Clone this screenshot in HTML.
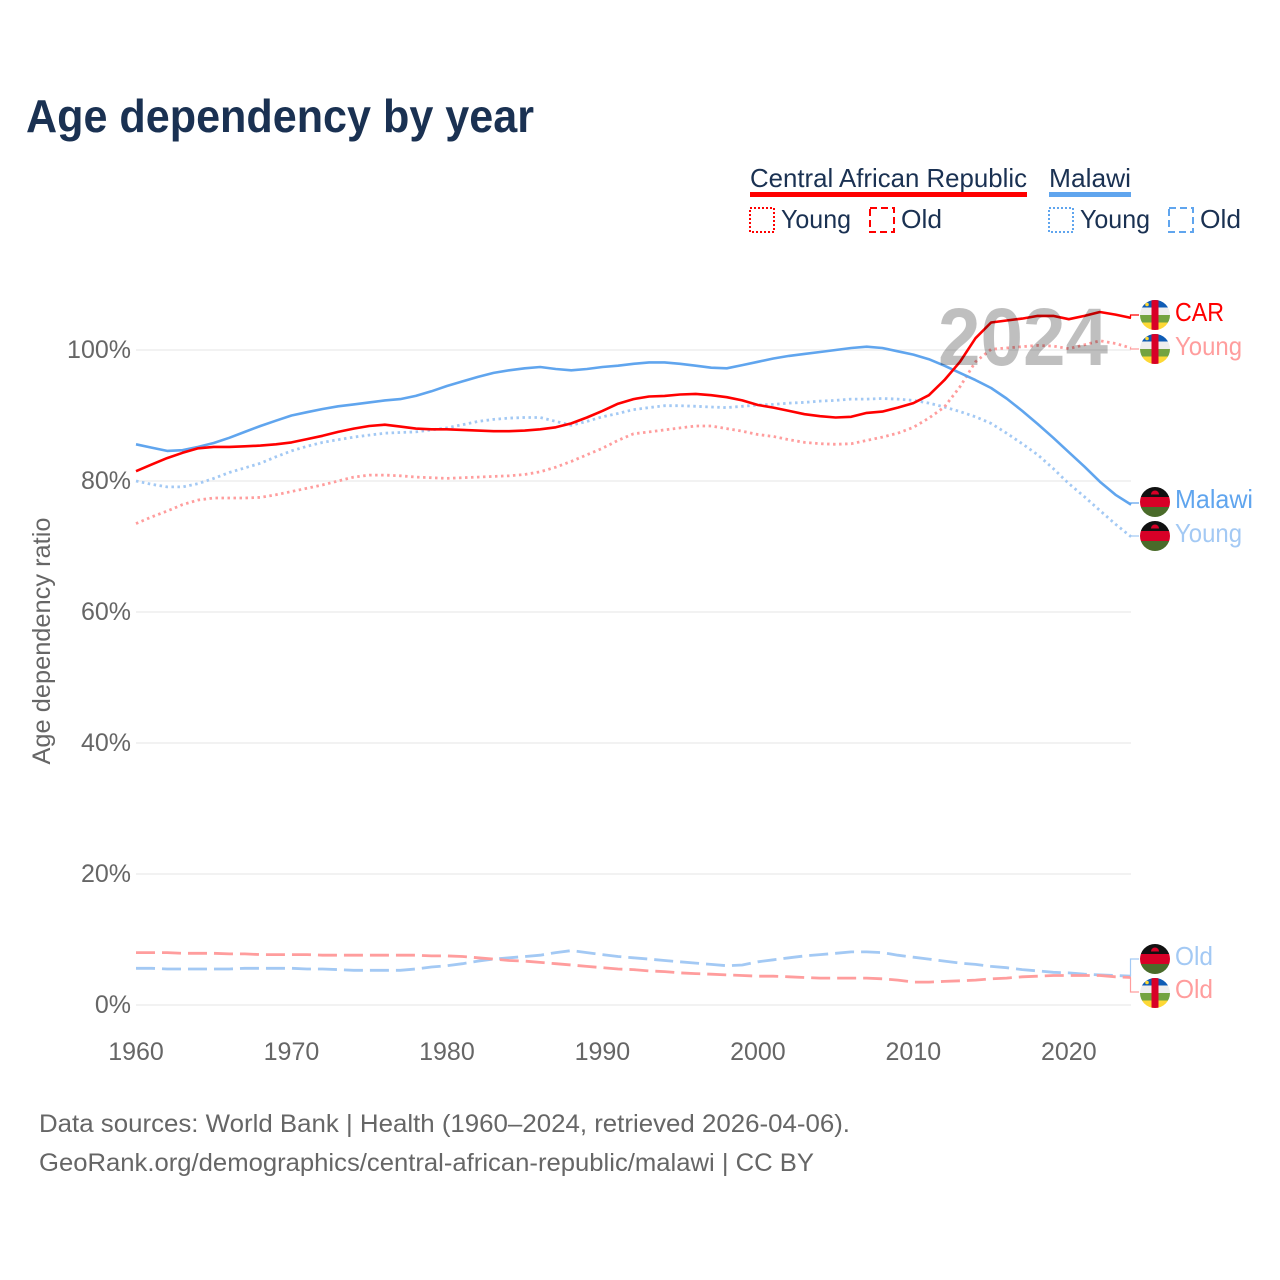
<!DOCTYPE html>
<html lang="en">
<head>
<meta charset="utf-8">
<title>Age dependency by year</title>
<style>
html,body{margin:0;padding:0;background:#fff;}
svg{display:block;font-family:"Liberation Sans",sans-serif;}
.legend{font-size:26px;fill:#1a3152;}
.tick{font-size:25px;fill:#666;}
.foot{font-size:25px;fill:#666;}
.end{font-size:26px;}
</style>
</head>
<body>
<svg id="chart" width="1280" height="1280" viewBox="0 0 1280 1280" xmlns="http://www.w3.org/2000/svg">
<rect width="1280" height="1280" fill="#fff"/>
<text x="26" y="132" font-size="46" font-weight="700" fill="#1a3152" textLength="508" lengthAdjust="spacingAndGlyphs">Age dependency by year</text>

<g>
<text class="legend" x="750" y="187" textLength="277" lengthAdjust="spacingAndGlyphs">Central African Republic</text>
<rect x="750" y="192" width="277" height="5" fill="#ff0000"/>
<text class="legend" x="1049" y="187" textLength="82" lengthAdjust="spacingAndGlyphs">Malawi</text>
<rect x="1049" y="192" width="82" height="5" fill="#60a5ee"/>
<rect x="750" y="208" width="24" height="24" fill="none" stroke="#ff0000" stroke-width="2" stroke-dasharray="2 2"/>
<text class="legend" x="781" y="228" textLength="70" lengthAdjust="spacingAndGlyphs">Young</text>
<rect x="870" y="208" width="24" height="24" fill="none" stroke="#ff0000" stroke-width="2" stroke-dasharray="7 4"/>
<text class="legend" x="901" y="228" textLength="41" lengthAdjust="spacingAndGlyphs">Old</text>
<rect x="1049" y="208" width="24" height="24" fill="none" stroke="#60a5ee" stroke-width="2" stroke-dasharray="2 2"/>
<text class="legend" x="1080" y="228" textLength="70" lengthAdjust="spacingAndGlyphs">Young</text>
<rect x="1169" y="208" width="24" height="24" fill="none" stroke="#60a5ee" stroke-width="2" stroke-dasharray="7 4"/>
<text class="legend" x="1200" y="228" textLength="41" lengthAdjust="spacingAndGlyphs">Old</text>
</g>

<g id="grid"></g>
<g id="yticks"></g>
<g id="xticks"></g>
<text transform="translate(50,641) rotate(-90)" text-anchor="middle" font-size="25" fill="#666" textLength="247" lengthAdjust="spacingAndGlyphs">Age dependency ratio</text>
<g id="series"></g>
<g id="connectors"></g>
<text x="938" y="365" font-size="82" font-weight="700" fill="#000" fill-opacity="0.25" textLength="170" lengthAdjust="spacingAndGlyphs">2024</text>

<g transform="translate(1155,315)"><use href="#flag-car"/></g>
<g transform="translate(1155,349)"><use href="#flag-car"/></g>
<g transform="translate(1155,502)"><use href="#flag-mw"/></g>
<g transform="translate(1155,536)"><use href="#flag-mw"/></g>
<g transform="translate(1155,959)"><use href="#flag-mw"/></g>
<g transform="translate(1155,993)"><use href="#flag-car"/></g>

<defs>
<clipPath id="flag-clip"><circle r="15"/></clipPath>
<g id="flag-car" clip-path="url(#flag-clip)">
<rect x="-15" y="-15" width="30" height="7.6" fill="#0f5cb5"/>
<rect x="-15" y="-7.5" width="30" height="7.6" fill="#eeeeee"/>
<rect x="-15" y="0" width="30" height="7.6" fill="#73a340"/>
<rect x="-15" y="7.5" width="30" height="7.5" fill="#fdd835"/>
<rect x="-3.5" y="-15" width="7" height="30" fill="#d80027"/>
<circle cx="-8" cy="-10.5" r="1.8" fill="#fdd835"/>
</g>
<g id="flag-mw" clip-path="url(#flag-clip)">
<rect x="-15" y="-15" width="30" height="10.2" fill="#111111"/>
<rect x="-15" y="-5" width="30" height="10.2" fill="#d80027"/>
<rect x="-15" y="5" width="30" height="10" fill="#4a6b2a"/>
<path d="M-4-7.5 A4 4 0 0 1 4-7.5 Z" fill="#d80027"/>
</g>
</defs>

<text class="end" x="1175" y="321" fill="#ff0000" textLength="49" lengthAdjust="spacingAndGlyphs">CAR</text>
<text class="end" x="1175" y="355" fill="#ff9d9d" textLength="67" lengthAdjust="spacingAndGlyphs">Young</text>
<text class="end" x="1175" y="508" fill="#60a5ee" textLength="78" lengthAdjust="spacingAndGlyphs">Malawi</text>
<text class="end" x="1175" y="542" fill="#a3c9f4" textLength="67" lengthAdjust="spacingAndGlyphs">Young</text>
<text class="end" x="1175" y="965" fill="#a3c9f4" textLength="38" lengthAdjust="spacingAndGlyphs">Old</text>
<text class="end" x="1175" y="998" fill="#ff9d9d" textLength="38" lengthAdjust="spacingAndGlyphs">Old</text>

<text class="foot" x="39" y="1132" textLength="811" lengthAdjust="spacingAndGlyphs">Data sources: World Bank | Health (1960–2024, retrieved 2026-04-06).</text>
<a><text class="foot" x="39" y="1171" textLength="775" lengthAdjust="spacingAndGlyphs">GeoRank.org/demographics/central-african-republic/malawi | CC BY</text></a>
</svg>

<script>
const startYear = 1960;
const yTickValues = [0, 20, 40, 60, 80, 100];
const xTickValues = [1960, 1970, 1980, 1990, 2000, 2010, 2020];

const malawiTotal = [85.6,85.1,84.6,84.7,85.2,85.8,86.6,87.5,88.4,89.2,90.0,90.5,91.0,91.4,91.7,92.0,92.3,92.5,93.0,93.7,94.5,95.2,95.9,96.5,96.9,97.2,97.4,97.1,96.9,97.1,97.4,97.6,97.9,98.1,98.1,97.9,97.6,97.3,97.2,97.7,98.2,98.7,99.1,99.4,99.7,100.0,100.3,100.5,100.3,99.8,99.3,98.6,97.6,96.5,95.4,94.2,92.6,90.7,88.7,86.6,84.4,82.2,79.9,77.9,76.4];
const malawiYoung = [80.0,79.5,79.1,79.1,79.6,80.4,81.3,82.0,82.7,83.7,84.6,85.3,85.9,86.3,86.7,87.0,87.3,87.4,87.5,87.8,88.1,88.6,89.1,89.4,89.6,89.7,89.7,89.1,88.5,89.1,89.8,90.3,90.9,91.2,91.5,91.5,91.4,91.3,91.2,91.4,91.6,91.7,91.9,92.0,92.2,92.3,92.5,92.5,92.6,92.5,92.3,91.9,91.3,90.6,89.8,88.8,87.3,85.7,84.0,81.9,79.6,77.6,75.5,73.4,71.5];
const malawiOld = [5.6,5.6,5.5,5.5,5.5,5.5,5.5,5.6,5.6,5.6,5.6,5.5,5.5,5.4,5.3,5.3,5.3,5.3,5.5,5.8,6.0,6.3,6.7,7.0,7.2,7.4,7.6,8.0,8.3,8.0,7.7,7.4,7.2,7.0,6.8,6.6,6.4,6.2,6.0,6.1,6.6,6.9,7.2,7.5,7.7,7.9,8.1,8.1,8.0,7.6,7.3,7.0,6.7,6.4,6.2,5.9,5.7,5.4,5.2,5.0,4.9,4.7,4.6,4.5,4.4];
const carTotal = [81.5,82.5,83.5,84.3,85.0,85.2,85.2,85.3,85.4,85.6,85.9,86.4,86.9,87.5,88.0,88.4,88.6,88.3,88.0,87.9,87.9,87.8,87.7,87.6,87.6,87.7,87.9,88.2,88.8,89.7,90.7,91.8,92.5,92.9,93.0,93.2,93.3,93.1,92.8,92.3,91.6,91.2,90.7,90.2,89.9,89.7,89.8,90.4,90.6,91.2,91.9,93.1,95.4,98.2,101.8,104.2,104.5,104.8,105.2,105.2,104.7,105.2,105.8,105.4,104.9];
const carYoung = [73.5,74.5,75.4,76.4,77.1,77.4,77.4,77.4,77.5,77.9,78.4,78.9,79.4,80.0,80.6,80.9,80.9,80.8,80.6,80.5,80.4,80.5,80.6,80.7,80.8,81.0,81.4,82.1,83.0,84.0,85.0,86.2,87.2,87.5,87.8,88.1,88.4,88.4,88.0,87.6,87.1,86.8,86.3,85.9,85.7,85.6,85.7,86.2,86.7,87.3,88.2,89.6,91.3,94.4,98.2,100.1,100.3,100.5,100.7,100.6,100.2,100.8,101.4,101.0,100.3];
const carOld = [8.0,8.0,8.0,7.9,7.9,7.9,7.8,7.8,7.7,7.7,7.7,7.7,7.6,7.6,7.6,7.6,7.6,7.6,7.6,7.5,7.5,7.4,7.2,7.0,6.8,6.7,6.5,6.3,6.1,5.9,5.7,5.5,5.4,5.2,5.1,4.9,4.8,4.7,4.6,4.5,4.4,4.4,4.3,4.2,4.1,4.1,4.1,4.1,4.0,3.8,3.5,3.5,3.6,3.7,3.8,4.0,4.1,4.3,4.4,4.5,4.5,4.5,4.5,4.3,4.2];

const NS = 'http://www.w3.org/2000/svg';
function xScale(year) { return 136 + (year - 1960) * 15.547; }
function yScale(v) { return 1005 - v * 6.55; }
function make(tag, parent) {
  const el = document.createElementNS(NS, tag);
  document.getElementById(parent).appendChild(el);
  return el;
}

yTickValues.forEach(function (v) {
  const line = make('line', 'grid');
  
  
  line.setAttribute('x1', 136);
  line.setAttribute('x2', 1131);
  line.setAttribute('y1', yScale(v));
  line.setAttribute('y2', yScale(v));
  line.setAttribute('stroke', '#eeeeee');
  line.setAttribute('stroke-width', 1.5);
  const label = make('text', 'yticks');
  
  
  label.setAttribute('class', 'tick');
  label.setAttribute('x', 131);
  label.setAttribute('y', yScale(v) + 8);
  label.setAttribute('text-anchor', 'end');
  label.textContent = v + '%';
});

xTickValues.forEach(function (year) {
  const label = make('text', 'xticks');
  
  
  label.setAttribute('class', 'tick');
  label.setAttribute('x', xScale(year));
  label.setAttribute('y', 1060);
  label.setAttribute('text-anchor', 'middle');
  label.textContent = year;
});

function drawLine(values, name, color, dash, width) {
  const d = values.map(function (v, i) {
    return (i ? 'L' : 'M') + xScale(startYear + i).toFixed(1) + ' ' + yScale(v).toFixed(1);
  }).join(' ');
  const path = make('path', 'series');
  
  
  path.setAttribute('d', d);
  path.setAttribute('fill', 'none');
  path.setAttribute('stroke', color);
  path.setAttribute('stroke-width', width);
  path.setAttribute('stroke-linejoin', 'round');
  if (dash) path.setAttribute('stroke-dasharray', dash);
}

const redLight = '#ff9d9d';
const blueLight = '#a3c9f4';
drawLine(malawiYoung, 'line-malawi-young', blueLight, '2.5 3.5', 2.8);
drawLine(malawiOld, 'line-malawi-old', blueLight, '19 7', 2.8);
drawLine(carYoung, 'line-car-young', redLight, '2.5 3.5', 2.8);
drawLine(carOld, 'line-car-old', redLight, '19 7', 2.8);
drawLine(malawiTotal, 'line-malawi-total', '#60a5ee', null, 2.6);
drawLine(carTotal, 'line-car-total', '#ff0000', null, 2.6);

function connector(values, labelY, name, color) {
  const last = yScale(values[values.length - 1]);
  const path = make('path', 'connectors');
  
  
  path.setAttribute('d', 'M1131 ' + last.toFixed(1) + ' H1130.5 V' + labelY + ' H1139');
  path.setAttribute('fill', 'none');
  path.setAttribute('stroke', color);
  path.setAttribute('stroke-width', 1.2);
}
connector(carTotal, 315, 'connector-car-total', '#ff0000');
connector(carYoung, 349, 'connector-car-young', redLight);
connector(malawiTotal, 503, 'connector-malawi-total', '#60a5ee');
connector(malawiYoung, 536, 'connector-malawi-young', blueLight);
connector(malawiOld, 959, 'connector-malawi-old', blueLight);
connector(carOld, 992, 'connector-car-old', redLight);
</script>
</body>
</html>
